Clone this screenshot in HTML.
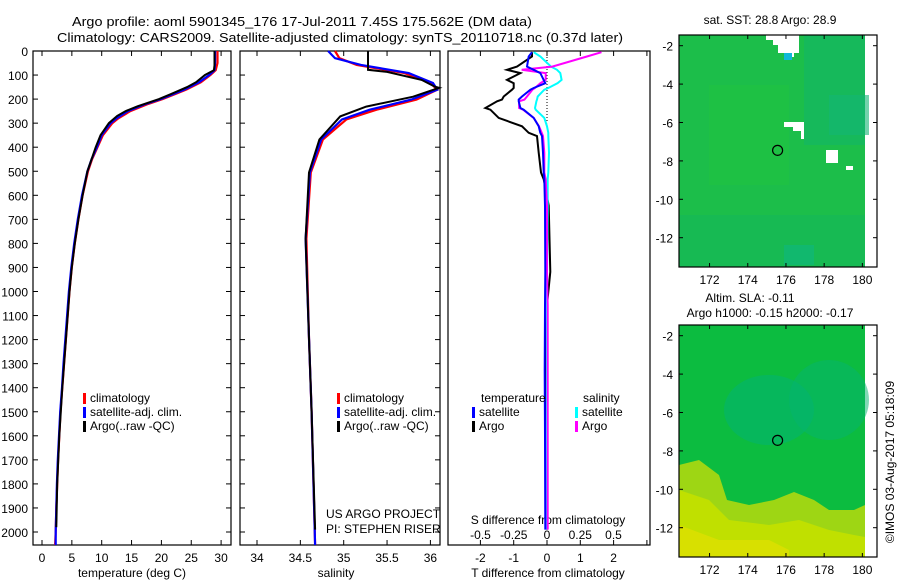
<!DOCTYPE html>
<html><head><meta charset="utf-8"><style>
html,body{margin:0;padding:0;background:#fff;}
svg{display:block;font-family:"Liberation Sans",sans-serif;}
</style></head><body>
<svg id="chart" width="900" height="580" viewBox="0 0 900 580" xmlns="http://www.w3.org/2000/svg">
<rect width="900" height="580" fill="#fff"/>
<text x="72" y="26" font-size="13" textLength="460" lengthAdjust="spacingAndGlyphs">Argo profile: aoml 5901345_176 17-Jul-2011 7.45S 175.562E (DM data)</text>
<text x="57" y="42" font-size="13" textLength="566" lengthAdjust="spacingAndGlyphs">Climatology: CARS2009. Satellite-adjusted climatology: synTS_20110718.nc (0.37d later)</text>
<g id="g"></g>
</svg>
<script>
// ---- data ----
const tDepth = [0,50,80,100,130,160,180,200,220,250,280,300,350,400,450,500,600,700,800,900,1000,1100,1200,1300,1400,1500,1600,1700,1800,1900,2000,2054];
const tClim  = [29.4,29.4,29.1,28.2,26.6,24.2,22.2,20.2,17.8,14.8,12.8,11.8,10.2,9.3,8.4,7.7,6.8,6.1,5.5,5.0,4.6,4.3,4.0,3.7,3.4,3.1,2.9,2.7,2.55,2.4,2.3,2.2];
const tSat   = [29.0,29.0,28.9,28.0,26.3,23.9,21.9,19.9,17.4,14.4,12.5,11.5,10.0,9.2,8.3,7.6,6.7,6.0,5.4,4.9,4.5,4.2,3.9,3.6,3.35,3.05,2.85,2.65,2.5,2.4,2.3,2.3];
const tArgoDepth = [0,60,80,100,130,150,180,200,230,250,270,300,350,400,450,500,600,700,800,900,1000,1200,1400,1600,1800,1980];
const tArgo  = [28.9,28.9,28.8,27.3,25.8,24.3,21.5,19.6,16.0,14.0,12.6,11.2,9.8,9.0,8.3,7.6,6.8,6.1,5.5,5.0,4.6,4.0,3.4,2.9,2.55,2.4];

const sDepth = [0,30,58,92,133,161,202,244,285,368,505,781,1194,1500,2054];
const sClim  = [34.9,34.95,35.15,35.7,36.0,36.08,35.84,35.38,35.03,34.76,34.62,34.57,34.6,34.63,34.67];
const sSat   = [34.82,34.9,35.2,35.75,36.03,36.08,35.78,35.3,34.98,34.74,34.61,34.56,34.6,34.63,34.67];
const sArgoDepth = [0,70,78,87,120,148,153,190,231,272,368,505,781,1194,1500,1990];
const sArgo  = [35.28,35.28,35.28,35.5,35.9,36.05,36.1,35.8,35.26,34.96,34.72,34.6,34.56,34.6,34.63,34.67];

const dDepth = [5,23,65,78,92,120,134,154,161,189,202,209,237,244,278,313,340,354,423,505,533,643,918,1057,1332,1607,1990];
const dTArgo = [-0.45,-0.45,-0.9,-1.2,-0.8,-1.2,-1.0,-1.0,-1.05,-1.3,-1.35,-1.5,-1.85,-1.7,-1.45,-0.75,-0.55,-0.3,-0.25,-0.18,-0.1,0.05,0.1,0.0,-0.05,-0.03,0.0];
const dTSat  = [-0.45,-0.55,-0.6,-0.4,-0.2,-0.1,-0.05,-0.4,-0.5,-0.75,-0.85,-0.85,-0.8,-0.7,-0.4,-0.25,-0.2,-0.15,-0.12,-0.1,-0.08,-0.06,-0.05,-0.06,-0.07,-0.06,-0.05];
const dSArgo = [0.41,0.3,0.04,-0.19,-0.01,-0.01,-0.05,-0.09,-0.11,-0.15,-0.17,-0.21,-0.21,-0.18,-0.1,-0.06,-0.04,-0.03,-0.02,-0.02,-0.01,0.0,0.0,0.005,0.005,0.005,0.005];
const dSSat  = [-0.1,-0.05,0.03,0.075,0.1,0.11,0.08,0.01,-0.02,-0.07,-0.075,-0.08,-0.09,-0.085,-0.02,0.0,0.01,0.01,0.015,0.01,0.005,0.005,0.0,0.0,0.0,0.0,0.0];

const depthTicks = [0,100,200,300,400,500,600,700,800,900,1000,1100,1200,1300,1400,1500,1600,1700,1800,1900,2000];
const tTicks = [0,5,10,15,20,25,30];
const sTicks = [34,34.5,35,35.5,36];
const sTickLabels = ["34","34.5","35","35.5","36"];
const dTTicks = [-2,-1,0,1,2];
const dSTicks = [-0.5,-0.25,0,0.25,0.5];
const dSTickLabels = ["-0.5","-0.25","0","0.25","0.5"];
const lonTicks = [172,174,176,178,180];
const latTicks = [-2,-4,-6,-8,-10,-12];

// ---- helpers ----
const NS="http://www.w3.org/2000/svg";
const G=document.getElementById('g');
function el(tag,attrs,parent){const e=document.createElementNS(NS,tag);for(const k in attrs)e.setAttribute(k,attrs[k]);(parent||G).appendChild(e);return e;}
function txt(x,y,s,anchor,size,name){const t=el('text',{x:x,y:y,'font-size':size||12,'text-anchor':anchor||'start'});t.textContent=s;


return t;}
const TOP=51,BOT=545;
const yD=d=>TOP+d*0.2405;
const xT=v=>42+v*5.97;
const xS=v=>257+(v-34)*86.7;
const xDT=v=>547+v*33.3;
const xDS=v=>547+v*133;

function frame(x0,x1,name){const r=el('rect',{x:x0,y:TOP,width:x1-x0,height:BOT-TOP,fill:'none',stroke:'#000','stroke-width':1.2});

}
function line(xs,ys,xf,color,w,name){let p='';for(let i=0;i<xs.length;i++)p+=(i?'L':'M')+xf(xs[i]).toFixed(1)+','+yD(ys[i]).toFixed(1);
const e=el('path',{d:p,fill:'none',stroke:color,'stroke-width':w||2,'stroke-linejoin':'miter'});

}
function legend(x,y,color,label,name){const r=el('rect',{x:x,y:y-9,width:3,height:11,fill:color});


txt(x+7,y,label,'start',12,name);}

// ---- panel 1: temperature ----
frame(33,231,'temperature-panel-frame');
depthTicks.forEach(d=>{const y=yD(d);
 el('line',{x1:33,y1:y,x2:38,y2:y,stroke:'#000'});el('line',{x1:231,y1:y,x2:226,y2:y,stroke:'#000'});
 el('line',{x1:240,y1:y,x2:245,y2:y,stroke:'#000'});el('line',{x1:440,y1:y,x2:435,y2:y,stroke:'#000'});
 txt(28,y+5,String(d),'end',12,'depth-tick-label');});
tTicks.forEach(v=>{const x=xT(v);el('line',{x1:x,y1:BOT,x2:x,y2:BOT-5,stroke:'#000'});el('line',{x1:x,y1:TOP,x2:x,y2:TOP+5,stroke:'#000'});
 txt(x,562,String(v),'middle',12,'temperature-tick-label');});
txt(132,577,'temperature (deg C)','middle',12,'temperature-axis-title');
line(tClim,tDepth,xT,'#f00',2.2,'temperature-climatology-line');
line(tSat,tDepth,xT,'#00f',2.2,'temperature-satellite-line');
line(tArgo,tArgoDepth,xT,'#000',2,'temperature-argo-line');
legend(83,402,'#f00','climatology','temp-legend-climatology');
legend(83,416,'#00f','satellite-adj. clim.','temp-legend-satellite');
legend(83,430,'#000','Argo(..raw -QC)','temp-legend-argo');

// ---- panel 2: salinity ----
frame(240,440,'salinity-panel-frame');
sTicks.forEach((v,i)=>{const x=xS(v);el('line',{x1:x,y1:BOT,x2:x,y2:BOT-5,stroke:'#000'});el('line',{x1:x,y1:TOP,x2:x,y2:TOP+5,stroke:'#000'});
 txt(x,562,sTickLabels[i],'middle',12,'salinity-tick-label');});
txt(336,577,'salinity','middle',12,'salinity-axis-title');
line(sClim,sDepth,xS,'#f00',2.2,'salinity-climatology-line');
line(sSat,sDepth,xS,'#00f',2.2,'salinity-satellite-line');
line(sArgo,sArgoDepth,xS,'#000',2,'salinity-argo-line');
legend(337,402,'#f00','climatology','sal-legend-climatology');
legend(337,416,'#00f','satellite-adj. clim.','sal-legend-satellite');
legend(337,430,'#000','Argo(..raw -QC)','sal-legend-argo');
txt(326,518,'US ARGO PROJECT','start',12,'project-label');
txt(326,533,'PI: STEPHEN RISER','start',12,'pi-label');

// ---- panel 3: differences ----
frame(448,650,'difference-panel-frame');
[-3,-2,-1,0,1,2,3].forEach(v=>{const x=xDT(v);if(x>448&&x<650){el('line',{x1:x,y1:TOP,x2:x,y2:TOP+5,stroke:'#000'});el('line',{x1:x,y1:BOT,x2:x,y2:BOT-5,stroke:'#000'});}});
dTTicks.forEach(v=>txt(xDT(v),562,String(v),'middle',12,'t-diff-tick-label'));
dSTicks.forEach((v,i)=>txt(xDS(v),539,dSTickLabels[i],'middle',12,'s-diff-tick-label'));
txt(548,524,'S difference from climatology','middle',12,'s-diff-axis-title');
txt(548,577,'T difference from climatology','middle',12,'t-diff-axis-title');
const zl=el('line',{x1:xDT(0),y1:yD(0),x2:xDT(0),y2:yD(300),stroke:'#000','stroke-dasharray':'1,2'});


line(dTArgo,dDepth,xDT,'#000',2,'t-diff-argo-line');
line(dSSat,dDepth,xDS,'#0ff',2,'s-diff-satellite-line');
line(dSArgo,dDepth,xDS,'#f0f',2,'s-diff-argo-line');
line(dTSat,dDepth,xDT,'#00f',2,'t-diff-satellite-line');
txt(481,402,'temperature','start',12,'diff-legend-temperature-heading');
txt(583,402,'salinity','start',12,'diff-legend-salinity-heading');
legend(472,416,'#00f','satellite','diff-legend-t-satellite');
legend(472,430,'#000','Argo','diff-legend-t-argo');
legend(575,416,'#0ff','satellite','diff-legend-s-satellite');
legend(575,430,'#f0f','Argo','diff-legend-s-argo');

// ---- maps ----
const lonX=(lon,x0)=>x0+(lon-170.4)*19.1;
function map(y0,type){
 const x0=679,w=198,h=232,dx=865;
 const g=el('g',{});
 
 
 const latY=lat=>y0+10.7+(-2-lat)*19.2;
 if(type==='sst'){
  el('rect',{x:x0,y:y0,width:dx-x0,height:h,fill:'#1cbe4a'},g);
  el('rect',{x:x0+125,y:y0,width:dx-x0-125,height:110,fill:'#12b668',opacity:0.6},g);
  el('rect',{x:x0+150,y:y0+60,width:40,height:40,fill:'#14b674',opacity:0.6},g);
  el('rect',{x:x0,y:y0+180,width:dx-x0,height:52,fill:'#12b660',opacity:0.45},g);
  el('rect',{x:x0+105,y:y0+210,width:30,height:20,fill:'#10b87a',opacity:0.7},g);
  el('rect',{x:x0+30,y:y0+50,width:80,height:100,fill:'#22c63c',opacity:0.4},g);
  el('path',{d:`M${x0+87},${y0} h33 v18 h-5 v4 h-8 v-4 h-8 v-8 h-5 v-5 h-7z`,fill:'#fff'},g);
  el('rect',{x:x0+105,y:y0+18,width:8,height:7,fill:'#10b8d8'},g);
  el('path',{d:`M${x0+105},${y0+87} h20 v17 h-3 v-8 h-8 v-4 h-9z`,fill:'#fff'},g);
  el('rect',{x:x0+147,y:y0+115,width:12,height:13,fill:'#fff'},g);
  el('rect',{x:x0+167,y:y0+131,width:7,height:4,fill:'#fff'},g);
 } else {
  el('rect',{x:x0,y:y0,width:dx-x0,height:h,fill:'#0cbc40'},g);
  el('ellipse',{cx:x0+90,cy:y0+85,rx:45,ry:35,fill:'#04b470',opacity:0.6},g);
  el('ellipse',{cx:x0+150,cy:y0+75,rx:40,ry:40,fill:'#04b470',opacity:0.5},g);
  el('path',{d:`M${x0},${y0+140} L${x0+20},${y0+135} L${x0+40},${y0+150} L${x0+48},${y0+175} L${x0+70},${y0+180} L${x0+95},${y0+175} L${x0+115},${y0+167} L${x0+135},${y0+175} L${x0+150},${y0+185} L${x0+175},${y0+185} L${dx},${y0+180} L${dx},${y0+h} L${x0},${y0+h}Z`,fill:'#9ed614'},g);
  el('path',{d:`M${x0},${y0+165} L${x0+30},${y0+175} L${x0+50},${y0+195} L${x0+90},${y0+200} L${x0+120},${y0+195} L${x0+150},${y0+205} L${x0+175},${y0+210} L${dx},${y0+212} L${dx},${y0+h} L${x0},${y0+h}Z`,fill:'#c0e000'},g);
  el('path',{d:`M${x0},${y0+200} L${x0+40},${y0+215} L${x0+90},${y0+215} L${x0+110},${y0+225} L${x0+110},${y0+h} L${x0},${y0+h}Z`,fill:'#d8e000'},g);
 }
 el('rect',{x:x0,y:y0,width:w,height:h,fill:'none',stroke:'#000','stroke-width':1.2},g);
 const c=el('circle',{cx:lonX(175.562,x0),cy:latY(-7.45),r:5,fill:'none',stroke:'#000','stroke-width':1.2},g);
 
 
 lonTicks.forEach(v=>{const x=lonX(v,x0);el('line',{x1:x,y1:y0,x2:x,y2:y0+4,stroke:'#000'},g);el('line',{x1:x,y1:y0+h,x2:x,y2:y0+h-4,stroke:'#000'},g);
  txt(x,y0+h+17,String(v),'middle',12,'longitude-tick-label');});
 latTicks.forEach(v=>{const y=latY(v);el('line',{x1:x0,y1:y,x2:x0+4,y2:y,stroke:'#000'},g);el('line',{x1:x0+w,y1:y,x2:x0+w-4,y2:y,stroke:'#000'},g);
  txt(673,y+5,String(v),'end',12,'latitude-tick-label');});
}
map(35,'sst');
map(325,'sla');
txt(770,24,'sat. SST: 28.8 Argo: 28.9','middle',12,'sst-map-title');
txt(750,302,'Altim. SLA: -0.11','middle',12,'sla-map-title');
txt(770,317,'Argo h1000: -0.15 h2000: -0.17','middle',12,'sla-map-subtitle');
const cp=txt(0,0,'©IMOS 03-Aug-2017 05:18:09','middle',12,'copyright-timestamp');
cp.setAttribute('transform','translate(894,462) rotate(-90)');
</script>
</body></html>
